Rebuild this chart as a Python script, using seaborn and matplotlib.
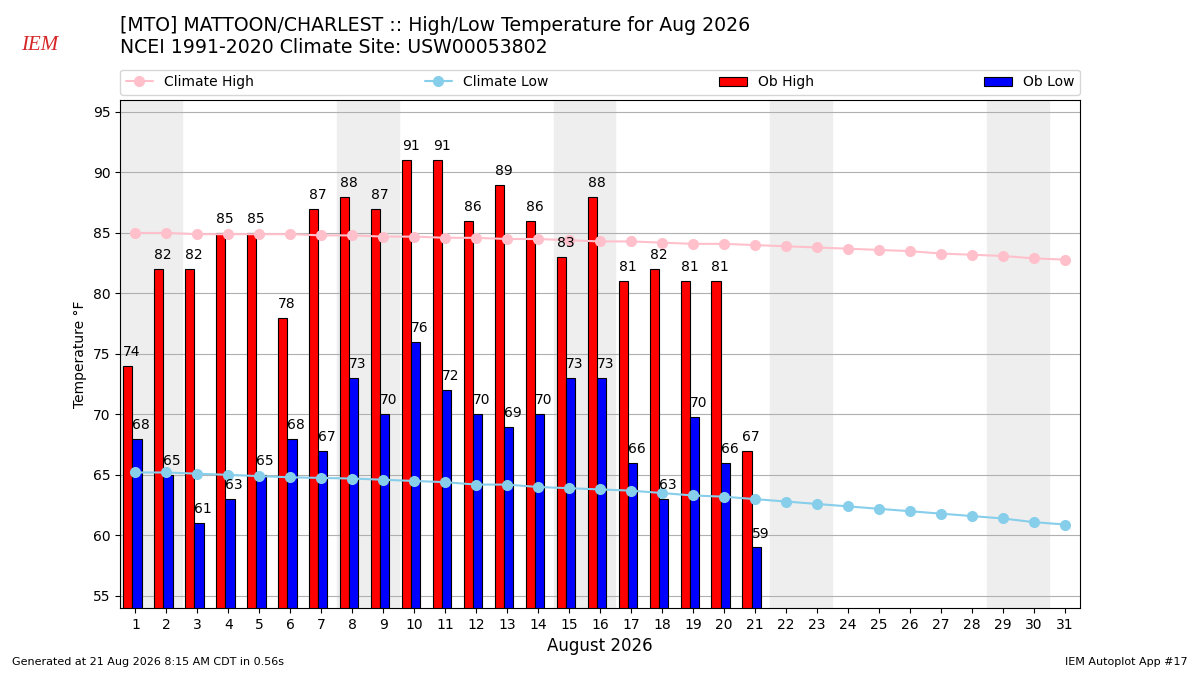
import numpy as np
import pandas as pd
import matplotlib
matplotlib.use("Agg")
import matplotlib.pyplot as plt
import seaborn as sns

# ------------------------------------------------------------------
# data
# ------------------------------------------------------------------
days = list(range(1, 32))
ob_high = [74, 82, 82, 85, 85, 78, 87, 88, 87, 91, 91, 86, 89, 86, 83, 88,
           81, 82, 81, 81, 67]
ob_low = [68, 65, 61, 63, 65, 68, 67, 73, 70, 76, 72, 70, 69, 70, 73, 73,
          66, 63, 69.8, 66, 59]
clim_high = [85.0, 85.0, 84.9, 84.9, 84.9, 84.9, 84.8, 84.8, 84.7, 84.7, 84.6,
             84.6, 84.5, 84.5, 84.4, 84.3, 84.3, 84.2, 84.1, 84.1, 84.0, 83.9,
             83.8, 83.7, 83.6, 83.5, 83.3, 83.2, 83.1, 82.9, 82.8]
clim_low = [65.2, 65.2, 65.1, 65.0, 64.9, 64.8, 64.75, 64.7, 64.6, 64.5, 64.4,
            64.2, 64.2, 64.0, 63.9, 63.8, 63.7, 63.5, 63.3, 63.2, 63.0, 62.8,
            62.6, 62.4, 62.2, 62.0, 61.8, 61.6, 61.4, 61.1, 60.9]
weekend_starts = [1, 8, 15, 22, 29]

clim = pd.DataFrame({"day": days, "Climate High": clim_high,
                     "Climate Low": clim_low})
obs_days = np.array(days[:len(ob_high)])

# ------------------------------------------------------------------
# figure
# ------------------------------------------------------------------
sns.set_style("ticks")
plt.rcParams["font.family"] = ["DejaVu Sans"]
for k in ["text.color", "axes.labelcolor", "xtick.color", "ytick.color",
          "axes.edgecolor"]:
    plt.rcParams[k] = "black"

fig = plt.figure(figsize=(12, 6.75), dpi=100)
ax = fig.add_axes([0.1, 0.0993, 0.8, 0.7527])

for start in weekend_starts:
    ax.axvspan(start - 0.5, start + 1.5, color="#EEEEEE", zorder=0)

ax.bar(obs_days - 0.4, ob_high, width=0.3, align="edge", color="red",
       edgecolor="black", linewidth=0.8, label="Ob High", zorder=2)
ax.bar(obs_days - 0.1, ob_low, width=0.3, align="edge", color="blue",
       edgecolor="black", linewidth=0.8, label="Ob Low", zorder=2)

for d, v in zip(obs_days, ob_high):
    ax.annotate(f"{v:.0f}", (d - 0.4, v), xytext=(0, 5),
                textcoords="offset points", ha="left", va="bottom",
                fontsize=10, zorder=4)
for d, v in zip(obs_days, ob_low):
    ax.annotate(f"{v:.0f}", (d - 0.1, v), xytext=(0, 5),
                textcoords="offset points", ha="left", va="bottom",
                fontsize=10, zorder=4)

sns.lineplot(data=clim, x="day", y="Climate High", ax=ax, color="pink",
             marker="o", markersize=8, markeredgewidth=0, linewidth=1.5,
             label="Climate High", zorder=3)
sns.lineplot(data=clim, x="day", y="Climate Low", ax=ax, color="skyblue",
             marker="o", markersize=8, markeredgewidth=0, linewidth=1.5,
             label="Climate Low", zorder=3)

ax.set_xlim(0.5, 31.5)
ax.set_ylim(54, 96)
ax.set_xticks(days)
ax.set_yticks(range(55, 96, 5))
ax.tick_params(labelsize=10, colors="black")
ax.set_axisbelow(True)
ax.yaxis.grid(True, color="#b0b0b0", linewidth=0.8)
ax.set_xlabel("August 2026", fontsize=12)
ax.set_ylabel("Temperature °F", fontsize=10)
for s in ax.spines.values():
    s.set_visible(True)
    s.set_color("black")

handles, labels = ax.get_legend_handles_labels()
order = [labels.index(n) for n in ["Climate High", "Climate Low", "Ob High", "Ob Low"]]
ax.legend([handles[i] for i in order], [labels[i] for i in order],
          ncol=4, mode="expand", loc="lower left",
          bbox_to_anchor=(0, 1.01, 1, 0.05), fontsize=10, borderaxespad=0)

fig.text(0.1, 0.977, "[MTO] MATTOON/CHARLEST :: High/Low Temperature for Aug 2026\n"
         "NCEI 1991-2020 Climate Site: USW00053802", fontsize=13.6,
         ha="left", va="top", linespacing=1.25)
fig.text(0.0175, 0.918, "IEM", fontsize=15, color="#d62728", style="italic",
         family=["Liberation Serif"], ha="left", va="bottom")
fig.text(0.01, 0.012, "Generated at 21 Aug 2026 8:15 AM CDT in 0.56s",
         fontsize=8, ha="left", va="bottom")
fig.text(0.99, 0.012, "IEM Autoplot App #17", fontsize=8, ha="right",
         va="bottom")

fig.savefig("out.png", dpi=100)
